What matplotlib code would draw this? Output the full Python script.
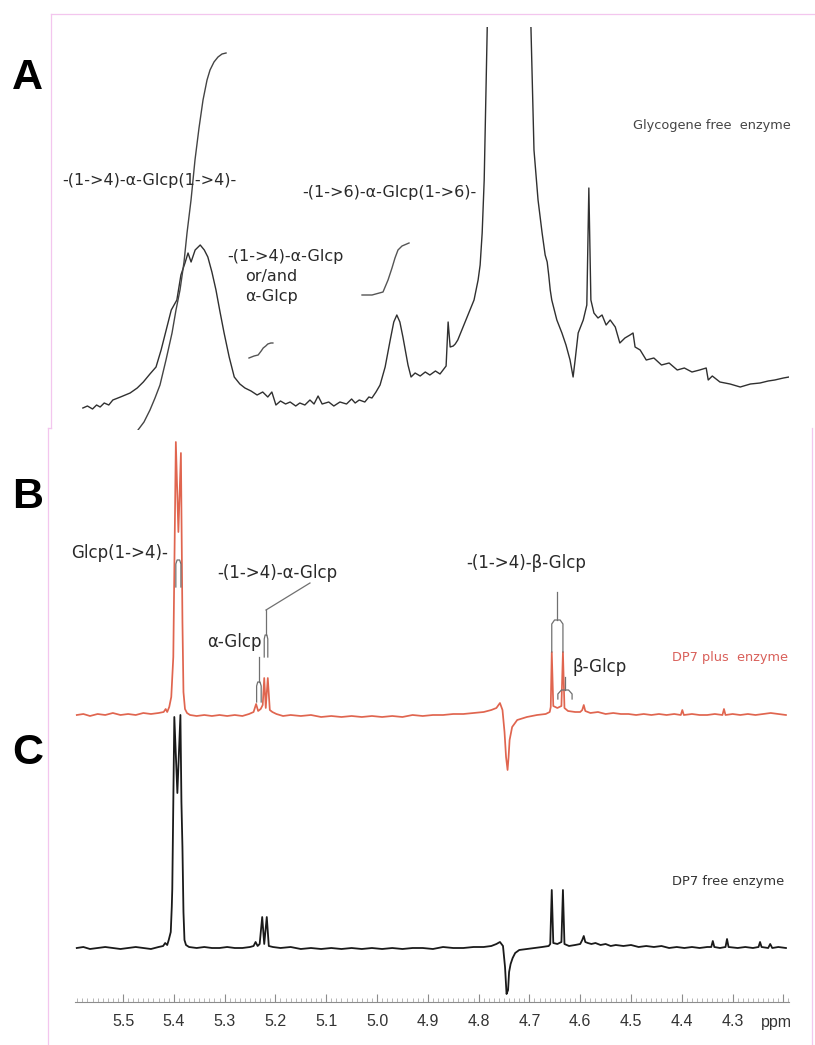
import numpy as np
import matplotlib
matplotlib.use('Agg')
import matplotlib.pyplot as plt
from matplotlib.lines import Line2D
from matplotlib.ticker import MultipleLocator

plt.rcParams['font.family'] = ['Liberation Sans', 'DejaVu Sans']

# ---- data (ppm, intensity in arbitrary units) ----
# panel A: glycogen, free enzyme
A_ppm = [5.579, 5.570, 5.560, 5.552, 5.545, 5.537, 5.528, 5.520, 5.505, 5.486,
         5.472, 5.460, 5.447, 5.435, 5.425, 5.415, 5.405, 5.394, 5.386, 5.378,
         5.372, 5.366, 5.358, 5.348, 5.340, 5.333, 5.325, 5.317, 5.309, 5.301,
         5.291, 5.281, 5.270, 5.260, 5.248, 5.236, 5.225, 5.215, 5.207, 5.199,
         5.190, 5.180, 5.171, 5.160, 5.152, 5.142, 5.132, 5.124, 5.116, 5.108,
         5.095, 5.085, 5.073, 5.060, 5.050, 5.043, 5.035, 5.024, 5.016, 5.010,
         5.002, 4.994, 4.984, 4.974, 4.967, 4.961, 4.955, 4.949, 4.939, 4.933,
         4.925, 4.915, 4.905, 4.896, 4.885, 4.876, 4.870, 4.864, 4.860, 4.856,
         4.850, 4.846, 4.841, 4.833, 4.825, 4.817, 4.809, 4.801, 4.797, 4.793,
         4.789, 4.783, 4.778, 4.740, 4.700, 4.697, 4.691, 4.683, 4.675, 4.669,
         4.665, 4.662, 4.659, 4.656, 4.646, 4.636, 4.628, 4.620, 4.614, 4.610,
         4.604, 4.594, 4.587, 4.583, 4.579, 4.573, 4.565, 4.557, 4.549, 4.541,
         4.531, 4.522, 4.512, 4.502, 4.496, 4.492, 4.482, 4.470, 4.455, 4.440,
         4.425, 4.409, 4.395, 4.380, 4.365, 4.352, 4.348, 4.340, 4.325, 4.305,
         4.285, 4.265, 4.246, 4.230, 4.217, 4.200, 4.189]
A_int = [22, 24, 21, 25, 23, 27, 25, 30, 33, 37,
         42, 48, 56, 63, 80, 100, 120, 130, 155, 167,
         177, 168, 180, 185, 180, 173, 158, 140, 118, 97,
         73, 53, 46, 42, 39, 35, 38, 33, 38, 25,
         29, 26, 28, 24, 27, 25, 30, 26, 34, 26,
         28, 24, 28, 26, 31, 27, 30, 28, 33, 32,
         38, 45, 63, 90, 108, 115, 108, 93, 65, 53,
         57, 54, 58, 55, 59, 56, 60, 64, 108, 83,
         84, 86, 90, 100, 110, 120, 130, 150, 165, 197,
         250, 403, 500, 1500, 500, 403, 280, 230, 197, 175,
         168, 155, 140, 130, 110, 97, 85, 70, 53, 70,
         97, 110, 125, 242, 130, 117, 112, 115, 105, 110,
         103, 87, 92, 95, 97, 83, 80, 70, 72, 65,
         67, 60, 62, 58, 60, 62, 50, 54, 48, 46,
         43, 46, 47, 49, 50, 52, 53]

# integral traces of panel A
A_integ1_ppm = [5.4705, 5.4587, 5.4469, 5.4370, 5.4272, 5.4154, 5.4035, 5.3957,
                5.3878, 5.3799, 5.3740, 5.3661, 5.3583, 5.3504, 5.3425, 5.3346,
                5.3287, 5.3209, 5.3130, 5.3051, 5.2972]
A_integ1 = [0, 8, 20, 32, 45, 70, 97, 120, 140, 168, 197, 230, 270, 302, 330,
            350, 360, 368, 373, 376, 377]
A_integ2_ppm = [5.252, 5.242, 5.234, 5.228, 5.224, 5.219, 5.215, 5.209, 5.205]
A_integ2 = [72, 74, 75, 79, 82, 84, 86, 87, 87]
A_integ3_ppm = [5.0295, 5.0098, 4.9882, 4.9783, 4.9705, 4.9646, 4.9587, 4.9508, 4.9370]
A_integ3 = [135, 135, 138, 150, 162, 172, 180, 184, 187]

# panel B: DP7 plus enzyme
B_ppm = [5.591, 5.578, 5.565, 5.550, 5.535, 5.520, 5.505, 5.490, 5.475, 5.460,
         5.445, 5.430, 5.420, 5.416, 5.413, 5.409, 5.405, 5.401, 5.396, 5.391,
         5.386, 5.383, 5.381, 5.378, 5.374, 5.368, 5.355, 5.340, 5.325, 5.310,
         5.295, 5.280, 5.265, 5.252, 5.243, 5.238, 5.234, 5.229, 5.225, 5.222,
         5.219, 5.215, 5.211, 5.206, 5.198, 5.185, 5.170, 5.150, 5.130, 5.110,
         5.090, 5.070, 5.050, 5.030, 5.010, 4.990, 4.970, 4.950, 4.930, 4.910,
         4.890, 4.870, 4.850, 4.830, 4.810, 4.790, 4.775, 4.765, 4.758, 4.753,
         4.749, 4.746, 4.743, 4.741, 4.739, 4.734, 4.724, 4.705, 4.685, 4.668,
         4.660, 4.658, 4.656, 4.653, 4.645, 4.637, 4.634, 4.631, 4.624, 4.610,
         4.600, 4.596, 4.593, 4.590, 4.580, 4.565, 4.550, 4.535, 4.520, 4.505,
         4.490, 4.475, 4.460, 4.445, 4.430, 4.415, 4.402, 4.399, 4.396, 4.380,
         4.365, 4.350, 4.335, 4.320, 4.317, 4.314, 4.300, 4.285, 4.270, 4.255,
         4.240, 4.225, 4.210, 4.195]
B_int = [287, 288, 286, 288, 287, 289, 287, 288, 287, 289,
         288, 289, 290, 293, 290, 295, 305, 345, 560, 470,
         549, 380, 310, 293, 289, 287, 286, 287, 286, 287,
         286, 287, 286, 288, 290, 298, 291, 293, 297, 324,
         294, 324, 292, 290, 288, 286, 287, 286, 287, 285,
         286, 285, 286, 285, 286, 285, 286, 285, 287, 286,
         287, 287, 288, 288, 289, 290, 292, 294, 299, 292,
         270, 245, 232, 245, 262, 275, 282, 285, 287, 288,
         290, 295, 350, 296, 294, 296, 350, 294, 291, 290,
         290, 292, 297, 291, 289, 290, 288, 289, 288, 288,
         287, 288, 287, 288, 287, 288, 287, 292, 287, 288,
         287, 287, 288, 287, 293, 287, 288, 287, 288, 287,
         288, 289, 288, 287]

# panel C: DP7 free enzyme
C_ppm = [5.591, 5.578, 5.565, 5.550, 5.535, 5.520, 5.505, 5.490, 5.475, 5.460,
         5.445, 5.430, 5.421, 5.417, 5.413, 5.410, 5.406, 5.404, 5.403, 5.401,
         5.399, 5.393, 5.387, 5.385, 5.383, 5.381, 5.379, 5.376, 5.370, 5.355,
         5.340, 5.325, 5.310, 5.295, 5.280, 5.265, 5.250, 5.243, 5.239, 5.235,
         5.231, 5.226, 5.222, 5.217, 5.213, 5.205, 5.190, 5.170, 5.150, 5.130,
         5.110, 5.090, 5.070, 5.050, 5.030, 5.010, 4.990, 4.970, 4.950, 4.930,
         4.910, 4.890, 4.870, 4.850, 4.830, 4.810, 4.790, 4.775, 4.765, 4.758,
         4.752, 4.748, 4.745, 4.742, 4.740, 4.737, 4.733, 4.728, 4.720, 4.705,
         4.690, 4.675, 4.662, 4.659, 4.656, 4.653, 4.645, 4.637, 4.634, 4.631,
         4.622, 4.610, 4.600, 4.596, 4.593, 4.590, 4.585, 4.578, 4.570, 4.560,
         4.550, 4.540, 4.530, 4.515, 4.500, 4.485, 4.470, 4.455, 4.440, 4.425,
         4.410, 4.395, 4.380, 4.365, 4.350, 4.342, 4.339, 4.336, 4.325, 4.314,
         4.311, 4.308, 4.290, 4.275, 4.260, 4.249, 4.246, 4.243, 4.230, 4.226,
         4.222, 4.210, 4.195]
C_int = [54, 55, 53, 54, 55, 54, 53, 54, 55, 54,
         53, 55, 56, 59, 57, 62, 70, 95, 113, 200,
         285, 209, 287, 200, 155, 90, 62, 57, 55, 54,
         55, 54, 54, 55, 54, 54, 55, 56, 60, 56,
         58, 85, 58, 85, 56, 55, 54, 55, 53, 54,
         53, 54, 53, 54, 53, 54, 53, 54, 53, 54,
         54, 53, 55, 54, 54, 55, 55, 56, 58, 60,
         56, 35, 8, 12, 30, 38, 44, 49, 52, 53,
         54, 55, 56, 58, 112, 59, 58, 60, 112, 58,
         56, 57, 58, 62, 66, 60, 59, 58, 59, 57,
         58, 56, 57, 56, 57, 55, 56, 55, 56, 54,
         55, 54, 55, 54, 55, 55, 61, 55, 54, 55,
         63, 55, 54, 55, 54, 55, 60, 55, 54, 58,
         54, 55, 54]

# assigned peak pairs in panel B (ppm) used by the brackets
B_main_pair = [5.396, 5.386]
B_alpha14_pair = [5.222, 5.215]
B_alpha_pair = [5.237, 5.228]
B_beta14_pair = [4.656, 4.634]
B_beta_pair = [4.644, 4.616]

TICKS = [5.5, 5.4, 5.3, 5.2, 5.1, 5.0, 4.9, 4.8, 4.7, 4.6, 4.5, 4.4, 4.3, 4.2]
TICK_LABELS = ['5.5', '5.4', '5.3', '5.2', '5.1', '5.0', '4.9', '4.8', '4.7',
               '4.6', '4.5', '4.4', '4.3', '']

# ---- figure ----
W, H = 815, 1045
fig = plt.figure(figsize=(W / 100, H / 100), dpi=100)


def fx(px):
    return px / W


def fy(py):
    return 1 - py / H


XLIM = (5.5945, 4.189)
axA = fig.add_axes([fx(75), fy(430), fx(789) - fx(75), fy(27) - fy(430)])
axBC = fig.add_axes([fx(75), fy(1002), fx(789) - fx(75), fy(430) - fy(1002)])
for ax in (axA, axBC):
    ax.set_xlim(XLIM)
    ax.patch.set_alpha(0)
axA.set_ylim(0, 403)
axBC.set_ylim(0, 572)
axA.axis('off')

# panel A
axA.plot(A_ppm, A_int, color='#303030', lw=1.0)
axA.plot(A_integ1_ppm, A_integ1, color='#444444', lw=1.0)
axA.plot(A_integ2_ppm, A_integ2, color='#555555', lw=1.0)
axA.plot(A_integ3_ppm, A_integ3, color='#555555', lw=1.0)

# panels B and C share the ppm axis
axBC.plot(C_ppm, C_int, color='#1a1a1a', lw=1.3)
axBC.plot(B_ppm, B_int, color='#e0654f', lw=1.25)


def bracket(ax, pair, top, low, stem=None, color='#707070'):
    p1, p2 = pair
    d = (p1 - p2) * 0.25
    xs = [p1, p1, p1 - d, p2 + d, p2, p2]
    ys = [low, top - 4, top, top, top - 4, low]
    ax.plot(xs, ys, color=color, lw=0.9)
    if stem is not None:
        mid = (p1 + p2) / 2
        ax.plot([mid, mid], [top, stem], color=color, lw=0.9)


bracket(axBC, B_main_pair, 442, 415)
bracket(axBC, B_alpha14_pair, 367, 345, stem=392)
axBC.plot([sum(B_alpha14_pair) / 2, 5.132], [392, 419], color='#707070', lw=0.9)
bracket(axBC, B_alpha_pair, 320, 300, stem=345)
bracket(axBC, B_beta14_pair, 382, 350, stem=410)
bracket(axBC, B_beta_pair, 312, 303, stem=325)

for s in ('top', 'left', 'right'):
    axBC.spines[s].set_visible(False)
axBC.spines['bottom'].set_color('#8c8c8c')
axBC.set_yticks([])
axBC.set_xticks(TICKS, TICK_LABELS)
axBC.xaxis.set_minor_locator(MultipleLocator(0.01))
axBC.tick_params(axis='x', which='major', direction='in', length=6, width=0.8,
                 color='#8c8c8c', labelsize=11.5, labelcolor='#333333', pad=9)
axBC.tick_params(axis='x', which='minor', direction='in', length=3, width=0.5,
                 color='#9a9a9a')

# ---- text ----
def ftext(x, y, s, **kw):
    kw.setdefault('va', 'center')
    kw.setdefault('color', '#2a2a2a')
    kw.setdefault('family', 'DejaVu Sans')
    fig.text(fx(x), fy(y), s, **kw)


for letter, y in (('A', 89), ('B', 508), ('C', 764)):
    ftext(12, y, letter, fontsize=31, fontweight='bold', color='black',
          va='baseline', family='Liberation Sans')

ftext(62, 180, '-(1->4)-\u03b1-Glcp(1->4)-', fontsize=11.5)
ftext(302, 192, '-(1->6)-\u03b1-Glcp(1->6)-', fontsize=11.5)
ftext(227, 257, '-(1->4)-\u03b1-Glcp', fontsize=11.5)
ftext(245, 277, 'or/and', fontsize=11.5)
ftext(245, 297, '\u03b1-Glcp', fontsize=11.5)
ftext(633, 126, 'Glycogene free  enzyme', fontsize=9.3, color='#444444')

ftext(168, 553, 'Glcp(1->4)-', fontsize=12, ha='right')
ftext(217, 573, '-(1->4)-\u03b1-Glcp', fontsize=12)
ftext(262, 642, '\u03b1-Glcp', fontsize=12, ha='right')
ftext(466, 563, '-(1->4)-\u03b2-Glcp', fontsize=12)
ftext(573, 667, '\u03b2-Glcp', fontsize=12)
ftext(672, 658, 'DP7 plus  enzyme', fontsize=9.3, color='#d9605a')
ftext(672, 882, 'DP7 free enzyme', fontsize=9.4, color='#333333')
ftext(776, 1022, 'ppm', fontsize=11.5, ha='center', color='#333333',
      family='Liberation Sans')

# faint pink frame left from the original layout
pink = '#f3c6ee'
for xs, ys in (([51, 815], [14, 14]), ([51, 51], [14, 428]),
               ([48, 51], [428, 428]), ([48, 48], [428, 1045]),
               ([812, 812], [428, 1045])):
    fig.add_artist(Line2D([fx(v) for v in xs], [fy(v) for v in ys],
                          color=pink, lw=0.9))

fig.savefig('out.png', dpi=100)
